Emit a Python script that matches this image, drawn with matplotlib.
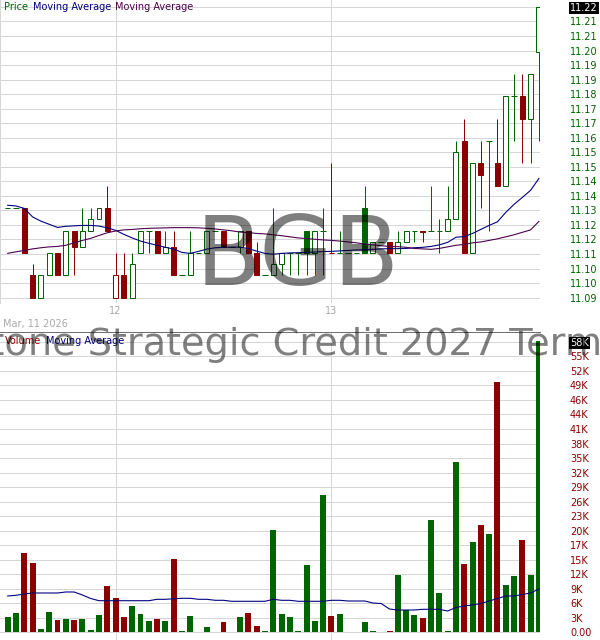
import matplotlib
matplotlib.use("Agg")
import matplotlib.pyplot as plt
import numpy as np

# ---------------- data ----------------
opens = [11.13, 11.13, 11.13, 11.10, 11.09, 11.10, 11.11, 11.10, 11.12, 11.1125,
         11.12, 11.125, 11.13, 11.09, 11.10, 11.09, 11.11, 11.12, 11.12, 11.11,
         11.1125, 11.10, 11.10, 11.11, 11.11, 11.12, 11.12, 11.1125, 11.1125, 11.12,
         11.11, 11.10, 11.10, 11.105, 11.11, 11.11, 11.12, 11.11, 11.12, 11.11,
         11.11, 11.11, 11.11, 11.13, 11.11, 11.115, 11.115, 11.11, 11.115, 11.12,
         11.12, 11.12, 11.12, 11.12, 11.125, 11.16, 11.11, 11.15, 11.16, 11.15,
         11.14, 11.18, 11.18, 11.17, 11.20]
highs = [11.13, 11.13, 11.13, 11.105, 11.10, 11.11, 11.11, 11.12, 11.12, 11.13,
         11.13, 11.13, 11.14, 11.11, 11.11, 11.11, 11.12, 11.12, 11.12, 11.12,
         11.12, 11.10, 11.12, 11.11, 11.12, 11.12, 11.12, 11.1125, 11.12, 11.12,
         11.115, 11.10, 11.13, 11.11, 11.11, 11.11, 11.12, 11.12, 11.13, 11.15,
         11.12, 11.11, 11.11, 11.14, 11.115, 11.115, 11.115, 11.12, 11.12, 11.12,
         11.12, 11.14, 11.125, 11.14, 11.16, 11.17, 11.15, 11.16, 11.16, 11.17,
         11.18, 11.19, 11.19, 11.19, 11.22]
lows = [11.13, 11.13, 11.11, 11.09, 11.09, 11.10, 11.10, 11.10, 11.10, 11.1125,
        11.12, 11.125, 11.12, 11.09, 11.09, 11.09, 11.11, 11.11, 11.11, 11.11,
        11.10, 11.10, 11.10, 11.11, 11.11, 11.12, 11.1125, 11.1125, 11.11, 11.11,
        11.10, 11.10, 11.10, 11.10, 11.10, 11.10, 11.10, 11.10, 11.10, 11.11,
        11.11, 11.11, 11.11, 11.11, 11.11, 11.115, 11.11, 11.11, 11.115, 11.115,
        11.115, 11.12, 11.11, 11.12, 11.125, 11.11, 11.11, 11.13, 11.12, 11.14,
        11.14, 11.16, 11.15, 11.15, 11.16]
closes = [11.13, 11.13, 11.11, 11.09, 11.10, 11.11, 11.10, 11.12, 11.1125, 11.12,
          11.125, 11.13, 11.12, 11.10, 11.09, 11.105, 11.12, 11.12, 11.11, 11.1125,
          11.10, 11.10, 11.11, 11.11, 11.12, 11.12, 11.1125, 11.1125, 11.12, 11.11,
          11.10, 11.10, 11.105, 11.11, 11.11, 11.11, 11.11, 11.12, 11.12, 11.11,
          11.11, 11.11, 11.11, 11.11, 11.115, 11.115, 11.11, 11.115, 11.12, 11.12,
          11.1195, 11.12, 11.12, 11.125, 11.155, 11.11, 11.15, 11.145, 11.16, 11.14,
          11.18, 11.18, 11.17, 11.19, 11.22]
volumes = [3050, 3850, 15800, 13800, 660, 4050, 2460, 2660, 2460, 2660,
           500, 3450, 9250, 6850, 3050, 5250, 3650, 2260, 2660, 2260,
           14600, 300, 3250, 0, 1060, 0, 2060, 0, 3050, 3850,
           1260, 300, 20400, 3650, 3050, 300, 13400, 2260, 27400, 3250,
           3650, 0, 0, 2060, 300, 0, 300, 11450, 4450, 3450,
           2860, 22400, 7850, 300, 34000, 13600, 18000, 21400, 19600, 50000,
           9450, 11250, 18400, 11450, 58200]
ma_short = [11.1313, 11.1310, 11.1299, 11.1261, 11.1242, 11.1228, 11.1214, 11.1219, 11.1221, 11.1223,
            11.1223, 11.1220, 11.1212, 11.1201, 11.1183, 11.1167, 11.1153, 11.1143, 11.1134, 11.1125,
            11.1117, 11.1102, 11.1098, 11.1107, 11.1117, 11.1123, 11.1125, 11.1126, 11.1126, 11.1119,
            11.1108, 11.1098, 11.1094, 11.1098, 11.1100, 11.1101, 11.1102, 11.1104, 11.1106, 11.1107,
            11.1109, 11.1111, 11.1113, 11.1114, 11.1116, 11.1118, 11.1119, 11.1119, 11.1120, 11.1123,
            11.1125, 11.1129, 11.1136, 11.1147, 11.1170, 11.1173, 11.1187, 11.1205, 11.1223, 11.1239,
            11.1281, 11.1317, 11.1348, 11.1380, 11.1433]
ma_long = [11.1098, 11.1105, 11.1111, 11.1118, 11.1123, 11.1127, 11.1129, 11.1134, 11.1145, 11.1156,
           11.1165, 11.1178, 11.1190, 11.1198, 11.1203, 11.1205, 11.1208, 11.1210, 11.1211, 11.1212,
           11.1213, 11.1213, 11.1213, 11.1212, 11.1210, 11.1207, 11.1203, 11.1199, 11.1193, 11.1191,
           11.1187, 11.1185, 11.1181, 11.1177, 11.1172, 11.1167, 11.1164, 11.1161, 11.1158, 11.1156,
           11.1153, 11.1149, 11.1145, 11.1140, 11.1136, 11.1132, 11.1129, 11.1128, 11.1125, 11.1120,
           11.1118, 11.1116, 11.1120, 11.1127, 11.1134, 11.1138, 11.1145, 11.1149, 11.1156, 11.1163,
           11.1172, 11.1181, 11.1192, 11.1203, 11.1241]
vol_ma = [7250, 7390, 7650, 7850, 7850, 7850, 7850, 8050, 8050, 7450,
          6750, 6310, 6310, 6310, 6310, 6310, 6310, 6310, 6590, 6590,
          6690, 6790, 6790, 6590, 6590, 6390, 6390, 6190, 6190, 6190,
          6190, 6190, 6590, 6390, 6390, 6190, 6190, 6190, 6190, 6390,
          6390, 6250, 6250, 6250, 5850, 5750, 4650, 4450, 4450, 4450,
          4590, 4590, 4590, 4250, 4950, 5250, 5450, 5750, 6250, 6750,
          7250, 7250, 7550, 7850, 8650]
day_starts = [13, 39]
day_labels = ['12', '13']
price_tick_labels = ['11.09', '11.10', '11.10', '11.11', '11.12', '11.12', '11.13',
                     '11.14', '11.14', '11.15', '11.15', '11.16', '11.17', '11.17',
                     '11.18', '11.19', '11.19', '11.20', '11.21', '11.21', '11.22']
vol_tick_labels = ['0.00', '3K', '6K', '9K', '12K', '15K', '17K', '20K', '23K', '26K',
                   '29K', '32K', '35K', '38K', '41K', '44K', '46K', '49K', '52K', '55K', '58K']

# ---------------- style ----------------
GREEN = '#006400'
RED = '#8b0000'
NAVY = '#000080'
PURPLE = '#4b004b'
GRID = '#d6d6d6'
LABEL_GRAY = '#a8a8a8'
PX = 0.72  # one pixel in points at dpi 100

W, H = 600, 640
fig = plt.figure(figsize=(6, 6.4), dpi=100)
fig.patch.set_facecolor('white')


def box(l, t, r, b):
    return [l / W, 1 - b / H, (r - l) / W, (b - t) / H]


axp = fig.add_axes(box(0, 0, 540, 303))
axv = fig.add_axes(box(0, 332, 540, 640))

n = len(closes)
x = np.arange(n)
colors = [GREEN] + [GREEN if closes[i] >= closes[i - 1] else RED for i in range(1, n)]

# ---------------- price panel ----------------
axp.vlines(x, lows, highs, colors=colors, lw=PX, zorder=3)
for i in range(n):
    o, c, col = opens[i], closes[i], colors[i]
    if c == o:
        axp.hlines(c, i - 0.33, i + 0.33, colors=col, lw=PX, zorder=4)
    else:
        face = 'white' if c > o else col
        axp.bar(i, c - o, bottom=o, width=0.6, facecolor=face, edgecolor=col,
                lw=PX, zorder=4)
axp.plot(x, ma_short, color=NAVY, lw=PX * 1.1, zorder=5)
axp.plot(x, ma_long, color=PURPLE, lw=PX * 1.1, zorder=5)

x_lo, x_hi = -0.928, 64.13
axp.set_xlim(x_lo, x_hi)
axp.set_ylim(11.0876, 11.2231)
price_ticks = np.linspace(11.09, 11.22, len(price_tick_labels))
axp.yaxis.tick_right()
axp.set_yticks(price_ticks)
axp.set_yticklabels(price_tick_labels)
axp.set_xticks(day_starts)
axp.set_xticklabels(day_labels)
axp.tick_params(axis='y', length=0, pad=21.6, labelsize=7, labelcolor=GREEN)
axp.tick_params(axis='x', length=0, pad=2.5, labelsize=7, labelcolor=LABEL_GRAY)
axp.grid(True, color=GRID, lw=PX, zorder=0)
axp.set_axisbelow(True)
for s in ['top', 'right', 'bottom']:
    axp.spines[s].set_visible(False)
axp.spines['left'].set_color(GRID)
axp.spines['left'].set_linewidth(PX)
axp.set_facecolor('white')

lbl = axp.get_yticklabels()[-1]
lbl.set_color('white')
lbl.set_bbox(dict(facecolor='black', edgecolor='none', pad=1.0))

# ---------------- volume panel ----------------
axv.bar(x, volumes, width=0.72, color=colors, zorder=3)
axv.plot(x, vol_ma, color=NAVY, lw=PX * 1.1, zorder=4)
axv.set_xlim(x_lo, x_hi)
axv.set_ylim(-1538, 59970)
vol_ticks = [2900 * k for k in range(len(vol_tick_labels))]
axv.yaxis.tick_right()
axv.set_yticks(vol_ticks)
axv.set_yticklabels(vol_tick_labels)
axv.set_xticks(day_starts)
axv.set_xticklabels([])
axv.tick_params(axis='y', length=0, pad=21.6, labelsize=7, labelcolor=RED)
axv.tick_params(axis='x', length=0)
axv.grid(True, color=GRID, lw=PX, zorder=0)
axv.set_axisbelow(True)
for s in ['left', 'right', 'bottom']:
    axv.spines[s].set_visible(False)
axv.spines['top'].set_color('#707070')
axv.spines['top'].set_linewidth(PX)

vlbl = axv.get_yticklabels()[-1]
vlbl.set_color('white')
vlbl.set_bbox(dict(facecolor='black', edgecolor='none', pad=1.0))

# ---------------- legends / labels ----------------
def ftxt(px_x, px_y, s, color, **kw):
    fig.text(px_x / W, 1 - px_y / H, s, color=color, fontsize=7, va='center', **kw)

ftxt(4, 7, 'Price', GREEN)
ftxt(32.7, 7, 'Moving Average', NAVY)
ftxt(115, 7, 'Moving Average', PURPLE)
ftxt(5, 341, 'Volume', RED)
ftxt(45.7, 341, 'Moving Average', NAVY)
ftxt(3, 324, 'Mar, 11 2026', LABEL_GRAY)

# ---------------- watermarks ----------------
fig.text(298 / W, 1 - 285 / H, 'BGB', fontsize=69, color='black', alpha=0.5,
         ha='center', va='baseline', zorder=10)
fig.text(286 / W, 1 - 355 / H, 'Blackstone Strategic Credit 2027 Term Fund',
         fontsize=27.5, color='black', alpha=0.5, ha='center', va='baseline', zorder=10)

fig.savefig('out.png', dpi=100, facecolor='white')
